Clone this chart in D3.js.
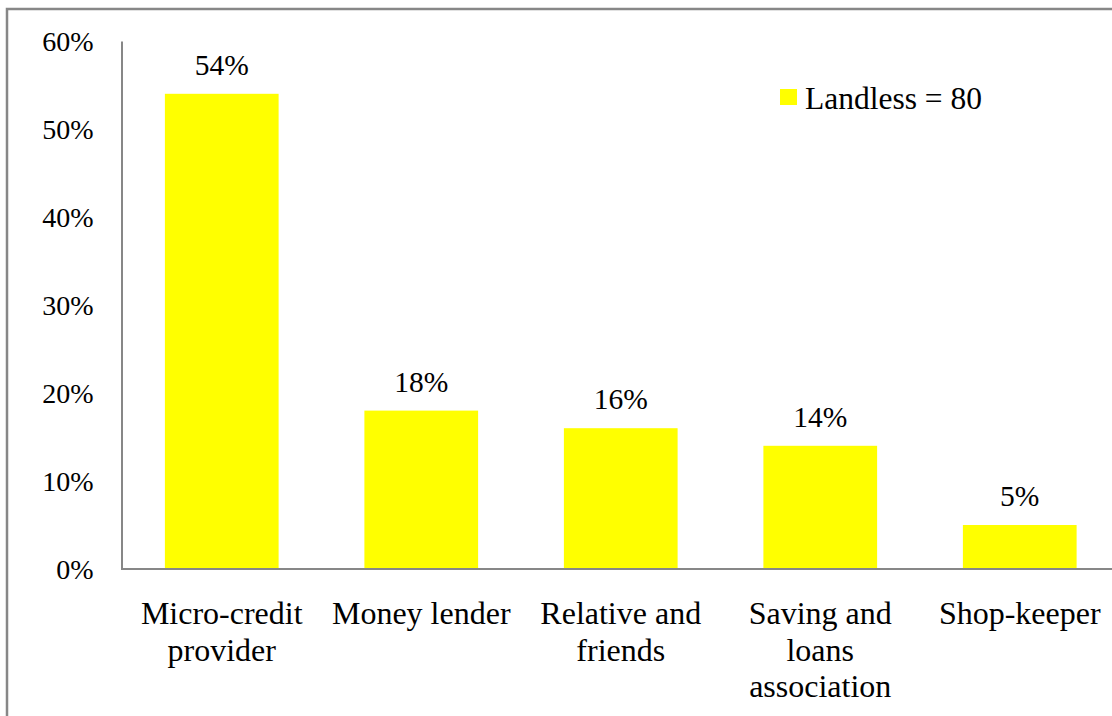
<!DOCTYPE html>
<html>
<head>
<meta charset="utf-8">
<script src="https://cdn.jsdelivr.net/npm/d3@7/dist/d3.min.js"></script>
<style>
  html, body { margin: 0; padding: 0; background: #fff; }
  svg { display: block; font-family: "Liberation Serif", "Times New Roman", Times, serif; }
</style>
</head>
<body>
<svg id="chart" width="1112" height="716"></svg>
<script>
// Sources of credit for landless households
const categories = [
  ["Micro-credit", "provider"],
  ["Money lender"],
  ["Relative and", "friends"],
  ["Saving and", "loans", "association"],
  ["Shop-keeper"]
];
const shares = [0.54, 0.18, 0.16, 0.14, 0.05];
const valueLabels = ["54%", "18%", "16%", "14%", "5%"];
const yTicks = [0, 0.1, 0.2, 0.3, 0.4, 0.5, 0.6];
const legendLabel = "Landless = 80";

const serif = '"Liberation Serif", "Times New Roman", Times, serif';
const svg = d3.select("#chart");
const barColor = "#ffff00";
const lineColor = "#878787";

// outer frame
svg.append("rect")
  .attr("x", 7).attr("y", 9)
  .attr("width", 1200).attr("height", 800)
  .attr("fill", "none")
  .attr("stroke", lineColor)
  .attr("stroke-width", 2.5);

const x = d3.scaleBand()
  .domain(d3.range(categories.length))
  .range([122, 1119.5])
  .paddingInner(0.43)
  .paddingOuter(0.215);

const y = d3.scaleLinear().domain([0, 0.6]).range([569, 41]);

// y axis: labels only, no ticks
const yAxis = d3.axisLeft(y)
  .tickValues(yTicks)
  .tickFormat(d3.format(".0%"))
  .tickSize(0)
  .tickPadding(28);
const gy = svg.append("g").attr("transform", "translate(121.5,0)").call(yAxis);
gy.attr("font-family", serif);
gy.select(".domain").attr("stroke", lineColor).attr("stroke-width", 2);
gy.selectAll("text")
  .attr("font-size", 28)
  .attr("fill", "#000")
  .attr("dy", "0.35em");

// bars
svg.append("g").selectAll("rect")
  .data(shares)
  .join("rect")
  .attr("x", (d, i) => x(i))
  .attr("y", d => y(d))
  .attr("width", x.bandwidth())
  .attr("height", d => y(0) - y(d))
  .attr("fill", barColor);

// x axis line
svg.append("line")
  .attr("x1", 121).attr("x2", 1112)
  .attr("y1", y(0)).attr("y2", y(0))
  .attr("stroke", lineColor)
  .attr("stroke-width", 2);

// value labels
svg.append("g").selectAll("text")
  .data(shares)
  .join("text")
  .attr("x", (d, i) => x(i) + x.bandwidth() / 2)
  .attr("y", d => y(d) - 19)
  .attr("text-anchor", "middle")
  .attr("font-size", 29.5)
  .attr("fill", "#000")
  .text((d, i) => valueLabels[i]);

// category labels, wrapped
const cat = svg.append("g").selectAll("text")
  .data(categories)
  .join("text")
  .attr("x", (d, i) => x(i) + x.bandwidth() / 2)
  .attr("y", 624)
  .attr("text-anchor", "middle")
  .attr("font-size", 32)
  .attr("fill", "#000");
cat.selectAll("tspan")
  .data(d => d)
  .join("tspan")
  .attr("x", function () { return d3.select(this.parentNode).attr("x"); })
  .attr("dy", (d, j) => j === 0 ? 0 : 36.5)
  .text(d => d);

// legend
const lg = svg.append("g").attr("transform", "translate(780,89)");
lg.append("rect").attr("width", 17).attr("height", 16).attr("fill", barColor);
lg.append("text")
  .attr("x", 25).attr("y", 20)
  .attr("font-size", 31.5)
  .attr("fill", "#000")
  .text(legendLabel);
</script>
</body>
</html>
